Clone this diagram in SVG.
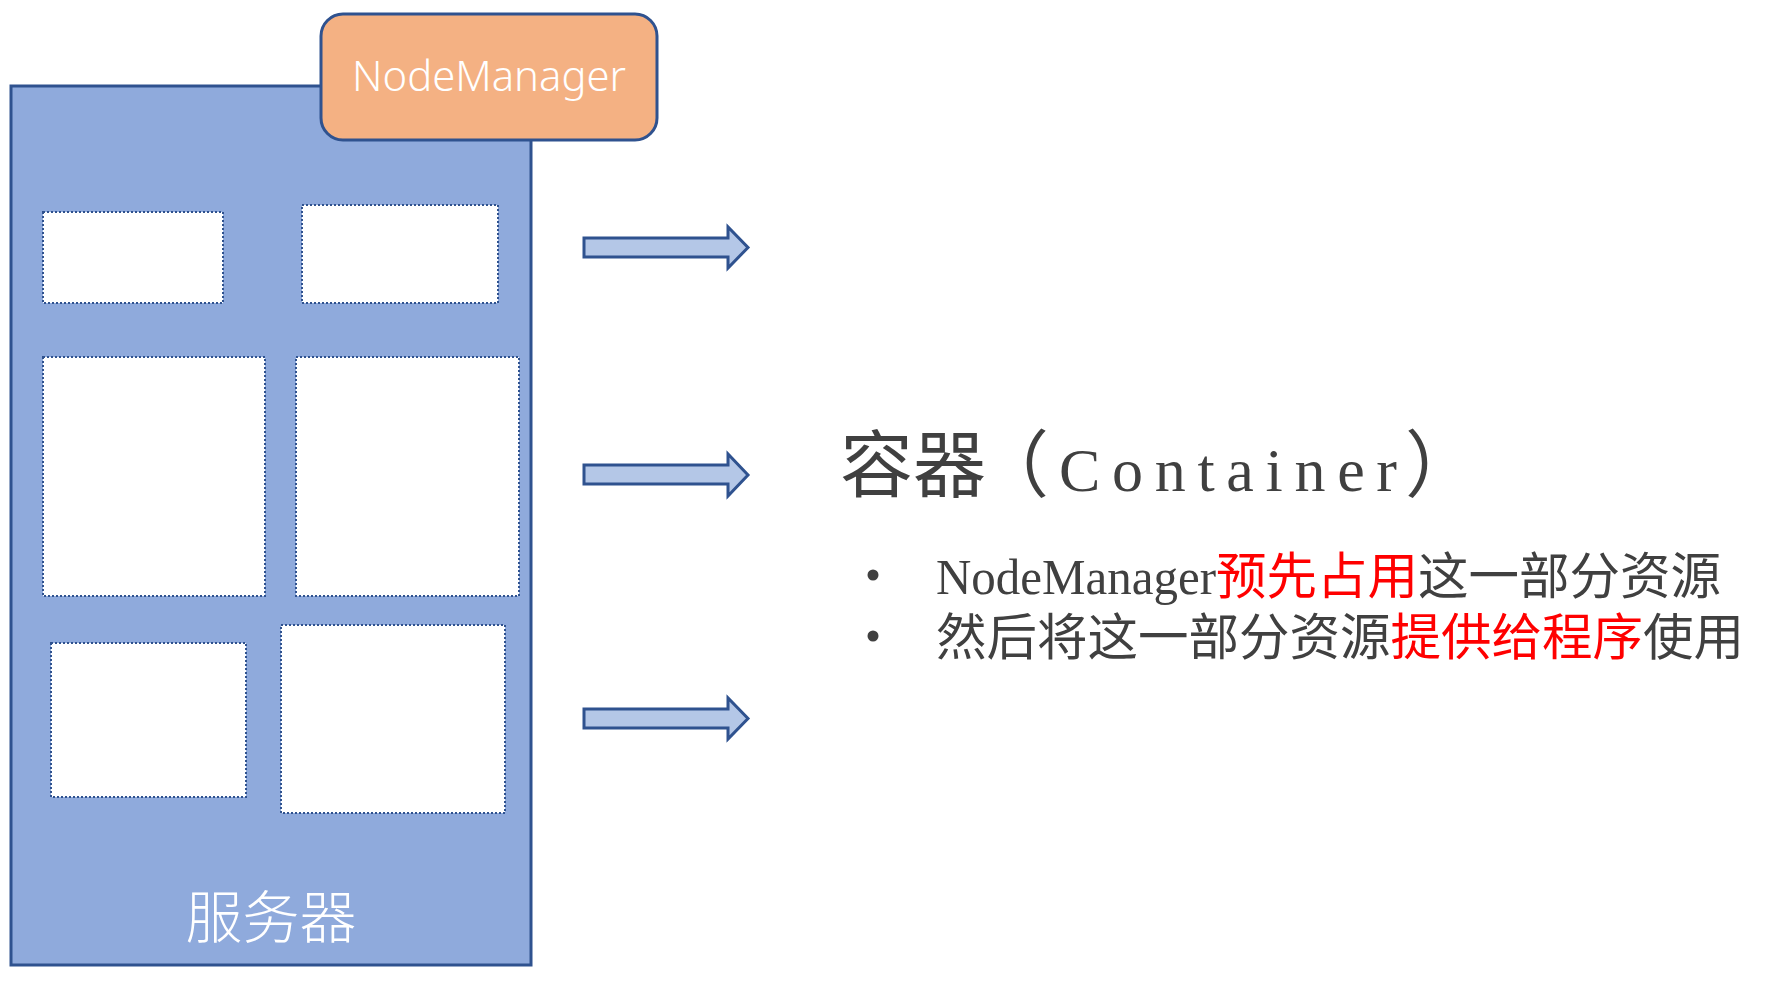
<svg xmlns="http://www.w3.org/2000/svg" width="1765" height="985" viewBox="0 0 1765 985">
<style>
.outline{stroke:#2F528F;stroke-width:3}
.slot{fill:#FFFFFF;stroke:#2F528F;stroke-width:2;stroke-dasharray:2 2}
.arrow{fill:#B4C7E7;stroke:#2F528F;stroke-width:3;stroke-linejoin:miter}
.cjk{font-family:"Noto Sans CJK SC","Noto Sans",sans-serif}
.lat{font-family:"Liberation Serif","Noto Sans CJK SC",serif}
.gray{fill:#404040}
.red{fill:#FF0000}
</style>
<rect width="1765" height="985" fill="#FFFFFF"/>
<g id="server">
<rect class="outline" x="11" y="86" width="520" height="879" fill="#8FAADC"/>
<text class="cjk" x="271" y="938" font-size="57" fill="#FFFFFF" text-anchor="middle" font-weight="300">服务器</text>
</g>
<g id="slot-1"><rect class="slot" x="43" y="212" width="180" height="91"/></g>
<g id="slot-2"><rect class="slot" x="302" y="205" width="196" height="98"/></g>
<g id="slot-3"><rect class="slot" x="43" y="357" width="222" height="239"/></g>
<g id="slot-4"><rect class="slot" x="296" y="357" width="223" height="239"/></g>
<g id="slot-5"><rect class="slot" x="51" y="643" width="195" height="154"/></g>
<g id="slot-6"><rect class="slot" x="281" y="625" width="224" height="188"/></g>
<g id="nodemanager">
<rect class="outline" x="321" y="14" width="336" height="126" rx="22" ry="22" fill="#F4B183"/>
<text x="489" y="91" font-family="'Noto Sans','Open Sans',sans-serif" font-weight="300" font-size="43" fill="#FFFFFF" text-anchor="middle" textLength="274" lengthAdjust="spacingAndGlyphs">NodeManager</text>
</g>
<g id="connectors">
<path class="arrow" d="M584,238 H728 V227 L748,247.5 L728,268 V257 H584 Z"/>
<path class="arrow" d="M584,465 H728 V454 L748,475 L728,496 V484 H584 Z"/>
<path class="arrow" d="M584,709 H728 V698 L748,718.5 L728,739 V728 H584 Z"/>
</g>
<g id="container-text">
<text class="cjk gray" y="491" font-size="73"><tspan x="840">容器</tspan><tspan x="976">（</tspan><tspan class="lat" x="1059" font-size="62" textLength="338" lengthAdjust="spacing">Container</tspan><tspan x="1405">）</tspan></text>
<circle cx="873" cy="575" r="5.5" fill="#404040"/>
<circle cx="873" cy="636" r="5.5" fill="#404040"/>
<text class="cjk gray" font-size="50.5"><tspan class="lat" x="936" y="594" font-size="51" textLength="280" lengthAdjust="spacingAndGlyphs">NodeManager</tspan><tspan class="red" x="1216" y="594">预先占用</tspan><tspan>这一部分资源</tspan><tspan x="936" y="655">然后将这一部分资源</tspan><tspan class="red">提供给程序</tspan><tspan>使用</tspan></text>
</g>
</svg>
